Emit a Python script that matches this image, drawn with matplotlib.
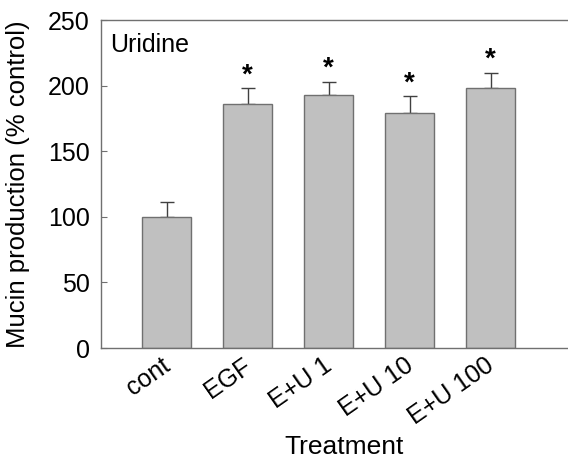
import matplotlib
matplotlib.use("Agg")
import matplotlib.pyplot as plt
import matplotlib.transforms as mtransforms
import numpy as np

# values
treatments = ['cont', 'EGF', 'E+U 1', 'E+U 10', 'E+U 100']
mucin = [100, 186, 193, 179, 198]
sem = [11, 12, 10, 13, 12]
significant = [False, True, True, True, True]

plt.rcParams['font.family'] = ['Liberation Sans', 'DejaVu Sans']

fig = plt.figure(figsize=(5.68, 4.58), dpi=100)
ax = fig.add_axes([0.178, 0.240, 0.857, 0.716])

x = np.arange(len(treatments))
ax.bar(x, mucin, width=0.6, color='#c0c0c0', edgecolor='#707070', linewidth=1.0, zorder=2)
ax.errorbar(x, mucin, yerr=[np.zeros(len(sem)), sem], fmt='none', ecolor='#404040',
            elinewidth=1.0, capsize=5, capthick=1.0, zorder=1)

for xi, m, s, sig in zip(x, mucin, sem, significant):
    if sig:
        ax.annotate('*', (xi, m + s), xytext=(0, 0), textcoords='offset points',
                    ha='center', va='bottom', fontsize=20, fontweight='bold')

ax.set_xlim(-0.81, 5.2)
ax.set_ylim(0, 250)
ax.set_yticks([0, 50, 100, 150, 200, 250])
ax.set_xticks(x)
ax.set_xticklabels(treatments, rotation=35, ha='right', rotation_mode='anchor')
ax.tick_params(axis='y', direction='in', length=4, labelsize=18, color='#707070', pad=8)
ax.tick_params(axis='x', length=0, labelsize=18, pad=4)

# nudge the slanted labels a little to the left
shift = mtransforms.ScaledTranslation(-6 / 100, 0, fig.dpi_scale_trans)
for lab in ax.get_xticklabels():
    lab.set_transform(lab.get_transform() + shift)

for side in ['left', 'top', 'bottom']:
    ax.spines[side].set_color('#707070')
    ax.spines[side].set_linewidth(1.0)
ax.spines['right'].set_visible(False)

ax.set_ylabel('Mucin production (% control)', fontsize=18.5, labelpad=13)
ax.set_xlabel('Treatment', fontsize=19)
ax.xaxis.set_label_coords(0.5, -0.266)
ax.text(0.018, 0.96, 'Uridine', transform=ax.transAxes, fontsize=18, va='top', ha='left')

fig.savefig('out.png', dpi=100)
